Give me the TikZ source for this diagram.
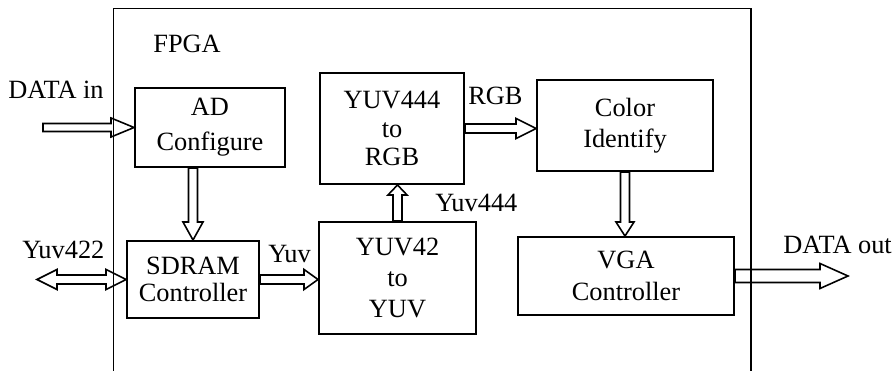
\documentclass[tikz,border=0pt]{standalone}
\usepackage{fontspec}
\setmainfont{Liberation Serif}
\usetikzlibrary{calc}

\tikzset{
    block/.style={draw, line width=1.1pt, align=center, inner sep=0pt},
    lbl/.style={anchor=base west, inner sep=0pt},
    frame/.style={line width=1.1pt},
    shaftw/.store in=\shaftw, shaftw=0.09cm,
    headw/.store in=\headw, headw=0.2cm,
    headl/.store in=\headl, headl=0.4cm,
    fatarrow/.style={line width=0.9pt, line join=miter, to path={
        let \p1=($(\tikztotarget)-(\tikztostart)$), \n1={veclen(\x1,\y1)},
            \p2=($(\tikztostart)!\n1-\headl!(\tikztotarget)$) in
        ($(\tikztostart)!\shaftw!90:(\tikztotarget)$)
        -- ($(\p2)!\shaftw!90:(\tikztotarget)$)
        -- ($(\p2)!\headw!90:(\tikztotarget)$)
        -- (\tikztotarget)
        -- ($(\p2)!\headw!-90:(\tikztotarget)$)
        -- ($(\p2)!\shaftw!-90:(\tikztotarget)$)
        -- ($(\tikztostart)!\shaftw!-90:(\tikztotarget)$)
        -- cycle
    }},
    fatdouble/.style={line width=0.9pt, line join=miter, to path={
        let \p1=($(\tikztotarget)-(\tikztostart)$), \n1={veclen(\x1,\y1)},
            \p2=($(\tikztostart)!\headl!(\tikztotarget)$),
            \p3=($(\tikztostart)!\n1-\headl!(\tikztotarget)$) in
        (\tikztostart)
        -- ($(\p2)!\headw!90:(\tikztotarget)$)
        -- ($(\p2)!\shaftw!90:(\tikztotarget)$)
        -- ($(\p3)!\shaftw!90:(\tikztotarget)$)
        -- ($(\p3)!\headw!90:(\tikztotarget)$)
        -- (\tikztotarget)
        -- ($(\p3)!\headw!-90:(\tikztotarget)$)
        -- ($(\p3)!\shaftw!-90:(\tikztotarget)$)
        -- ($(\p2)!\shaftw!-90:(\tikztotarget)$)
        -- ($(\p2)!\headw!-90:(\tikztotarget)$)
        -- cycle
    }},
}

\begin{document}
\begin{tikzpicture}[font=\fontsize{15}{17.5}\selectfont]
        % \draw[draw=black!20] (0, 0) grid (18, 7.5);
        \useasboundingbox (0, 0) rectangle (17.92, 7.42);
        \draw[frame] (2.27, -0.1) -- (2.27, 7.25) -- (15.02, 7.25) -- (15.02, -0.1);
        \node[lbl] (fpga-label) at (3.06, 6.36) {FPGA};

        \node[block, minimum width=3cm, minimum height=1.58cm] (ad) at (4.2, 4.87) {AD\\[2.3pt]Configure};
        \node[block, minimum width=2.64cm, minimum height=1.54cm] (sdram) at (3.86, 1.83) {SDRAM\\[-2pt]Controller};
        \node[block, minimum width=3.14cm, minimum height=2.24cm] (yuv42) at (7.95, 1.86) {YUV42\\to\\YUV};
        \node[block, minimum width=2.88cm, minimum height=2.22cm] (yuv444) at (7.84, 4.85) {YUV444\\[-1.3pt]to\\[-1.3pt]RGB};
        \node[block, minimum width=3.52cm, minimum height=1.82cm] (color) at (12.5, 4.91) {Color\\Identify};
        \node[block, minimum width=4.32cm, minimum height=1.56cm] (vga) at (12.52, 1.90) {VGA\\[1pt]Controller};

        \coordinate (data-in) at (0.86, 4.87);
        \coordinate (yuv-port) at (0.74, 1.83);
        \coordinate (data-out) at (16.96, 1.90);

        \node[lbl] (data-in-label) at (0.16, 5.44) {DATA in};
        \node[lbl] (yuv422-label) at (0.44, 2.24) {Yuv422};
        \node[lbl] (yuv-label) at (5.36, 2.16) {Yuv};
        \node[lbl] (yuv444-label) at (8.70, 3.18) {Yuv444};
        \node[lbl] (rgb-label) at (9.36, 5.32) {RGB};
        \node[lbl] (data-out-label) at (15.66, 2.34) {DATA out};

        \draw[fatarrow, shaftw=0.08cm, headw=0.19cm, headl=0.46cm] (data-in) to (ad.west);
        \draw[fatdouble] (yuv-port) to (sdram.west);
        \draw[fatarrow, headl=0.36cm] (sdram.north |- ad.south) to (sdram.north);
        \draw[fatarrow, headl=0.28cm] (sdram.east) to (sdram.east -| yuv42.west);
        \draw[fatarrow, headw=0.19cm, headl=0.2cm] (yuv42.north) to (yuv42.north |- yuv444.south);
        \draw[fatarrow] (yuv444.east) to (yuv444.east -| color.west);
        \draw[fatarrow, headw=0.18cm, headl=0.28cm] (color.south) to (color.south |- vga.north);
        \draw[fatarrow, shaftw=0.13cm, headw=0.25cm, headl=0.56cm] (vga.east) to (data-out);

    \end{tikzpicture}
\end{document}
